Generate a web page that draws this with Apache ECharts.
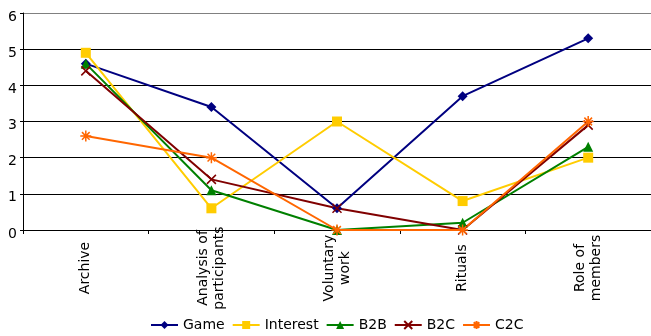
<!DOCTYPE html>
<html>
<head>
<meta charset="utf-8">
<script src="https://cdn.jsdelivr.net/npm/echarts@6/dist/echarts.min.js"></script>
<style>
html,body{margin:0;padding:0;background:#fff;}
#chart{width:651px;height:336px;}
</style>
</head>
<body>
<div id="chart"></div>
<script>
const categories = ['Archive', 'Analysis of\nparticipants', 'Voluntary\nwork', 'Rituals', 'Role of\nmembers'];
const seriesNames = ['Game', 'Interest', 'B2B', 'B2C', 'C2C'];
const gameValues = [4.6, 3.4, 0.6, 3.7, 5.3];
const interestValues = [4.9, 0.6, 3.0, 0.8, 2.0];
const b2bValues = [4.6, 1.1, 0.0, 0.2, 2.3];
const b2cValues = [4.4, 1.4, 0.6, 0.0, 2.9];
const c2cValues = [2.6, 2.0, 0.0, 0.0, 3.0];
const yTicks = [0, 1, 2, 3, 4, 5, 6];

const colors = ['#000080', '#FFCC00', '#008000', '#800000', '#FF6600'];
const FONT = 'DejaVu Sans, sans-serif';

const xPath = 'path://M0,0L10,10M10,0L0,10';
const starPath = 'path://M0,5L10,5M5,0L5,10M1.5,1.5L8.5,8.5M8.5,1.5L1.5,8.5';

function mk(name, data, color, symbol, size, stroke) {
  return {
    name: name,
    type: 'line',
    data: data,
    symbol: symbol,
    symbolSize: size,
    showAllSymbol: true,
    lineStyle: { color: color, width: 2 },
    itemStyle: stroke
      ? { color: color, borderColor: color, borderWidth: 1.5 }
      : { color: color, borderWidth: 0 },
    emphasis: { disabled: true },
    animation: false
  };
}

const chart = echarts.init(document.getElementById('chart'), null, { renderer: 'canvas' });
chart.setOption({
  animation: false,
  textStyle: { fontFamily: FONT },
  grid: { left: 23, right: -1, top: 13, bottom: 106, containLabel: false },
  legend: {
    data: seriesNames,
    top: 318,
    left: 150,
    padding: 0,
    itemWidth: 27,
    itemHeight: 10,
    itemGap: 7,
    textStyle: { fontFamily: FONT, fontSize: 14, color: '#000' }
  },
  xAxis: {
    type: 'category',
    data: categories,
    boundaryGap: true,
    axisLine: { lineStyle: { color: '#000', width: 1 } },
    axisTick: { show: true, length: 4, lineStyle: { color: '#000' } },
    axisLabel: {
      rotate: 90,
      interval: 0,
      align: 'center',
      verticalAlign: 'middle',
      margin: 38,
      lineHeight: 16,
      fontSize: 14,
      fontFamily: FONT,
      color: '#000'
    }
  },
  yAxis: {
    type: 'value',
    min: yTicks[0],
    max: yTicks[yTicks.length - 1],
    interval: 1,
    axisLine: { show: true, lineStyle: { color: '#000', width: 1 } },
    axisTick: { show: true, length: 3, lineStyle: { color: '#000' } },
    axisLabel: { margin: 6, fontSize: 14, fontFamily: FONT, color: '#000', verticalAlign: 'top', lineHeight: 8 },
    splitLine: {
      show: true,
      lineStyle: { color: ['#000', '#000', '#000', '#000', '#000', '#000', '#808080'], width: 1 }
    }
  },
  series: [
    mk('Game', gameValues, colors[0], 'diamond', 10, false),
    mk('Interest', interestValues, colors[1], 'rect', 10, false),
    mk('B2B', b2bValues, colors[2], 'triangle', 10, false),
    mk('B2C', b2cValues, colors[3], xPath, 9, true),
    mk('C2C', c2cValues, colors[4], starPath, 11, true)
  ]
});
</script>
</body>
</html>
